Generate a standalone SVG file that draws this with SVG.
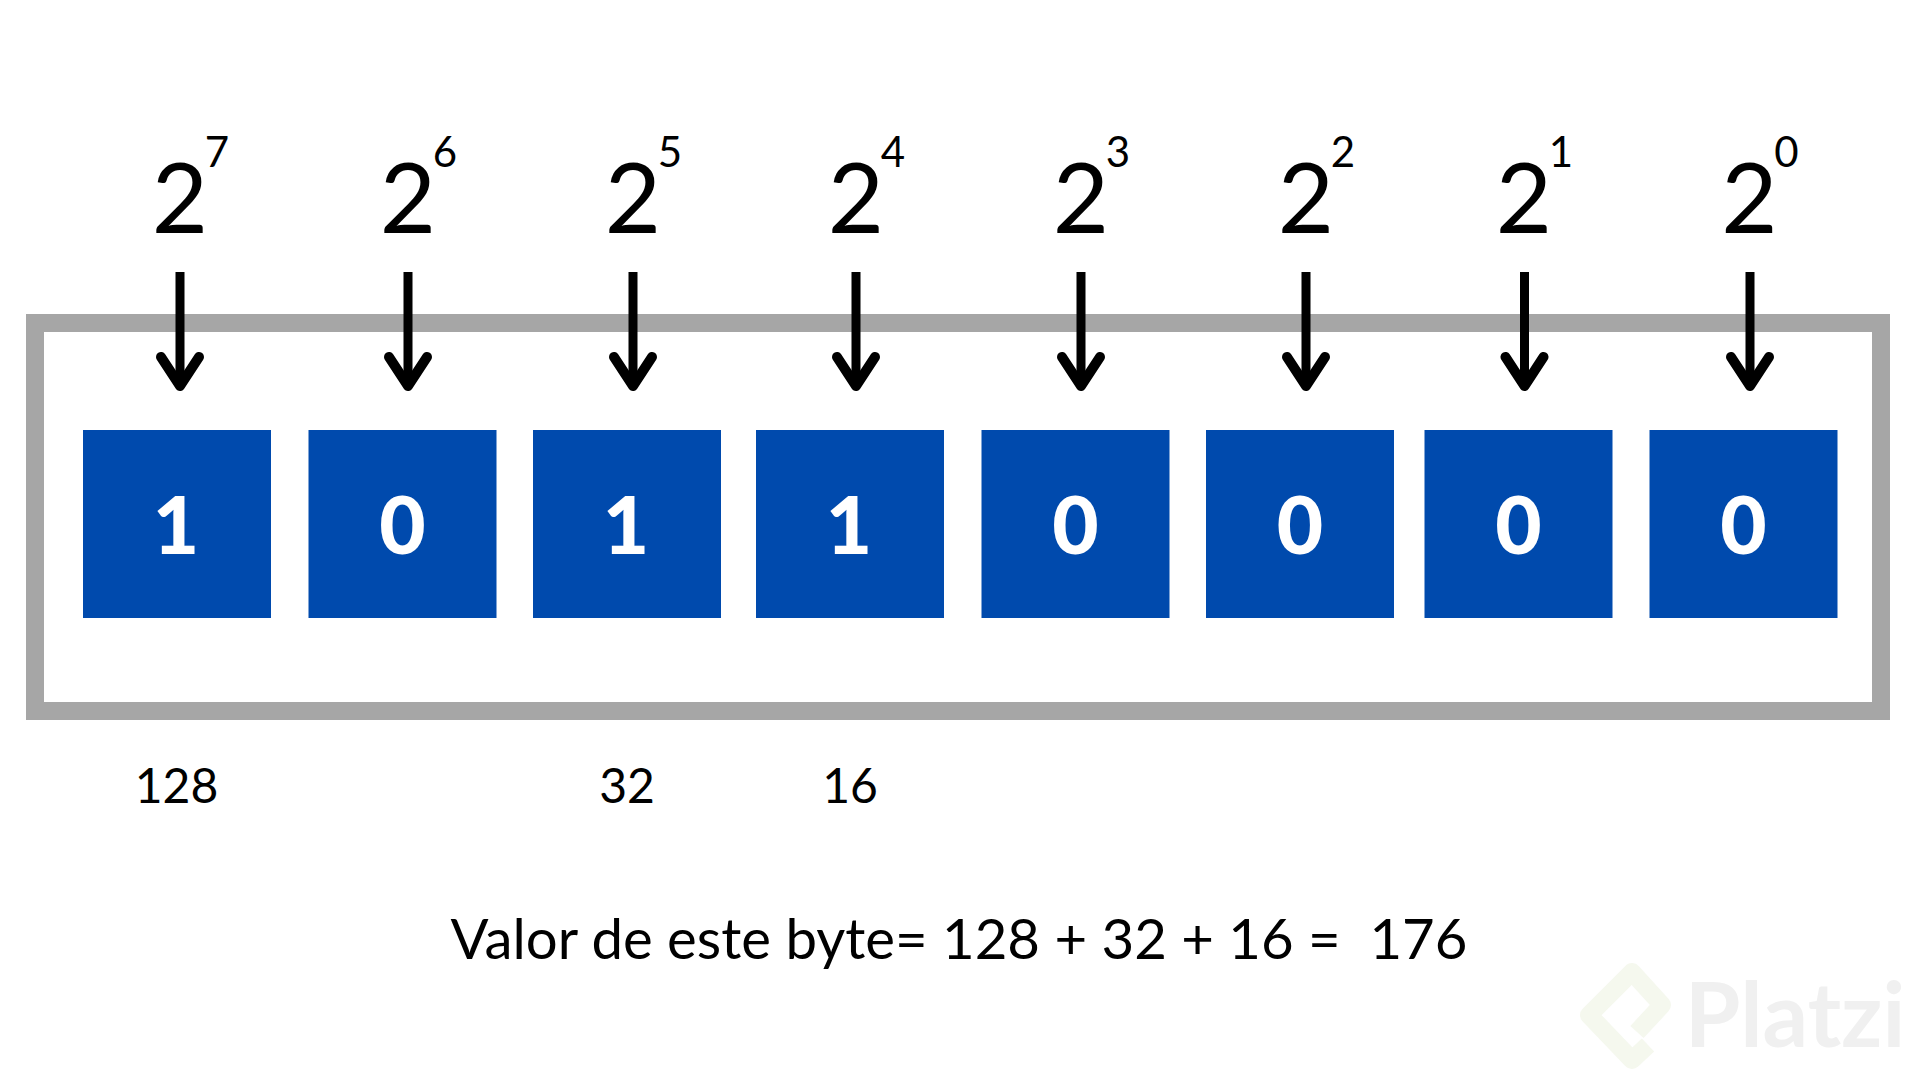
<svg xmlns="http://www.w3.org/2000/svg" width="1920" height="1080" viewBox="0 0 1920 1080">
<style>
text{font-family:Lato,"Noto Sans",sans-serif;fill:#000;text-anchor:middle}
.sq{fill:#004aad}
.bit{fill:#fff;font-size:80px;font-weight:900}
.base{font-size:97px}
.exp{font-size:42px}
.val{font-size:48px}
.sum{font-size:56.3px}
.arrow{stroke:#000;stroke-width:9;fill:none}
</style>
<defs>
<marker id="head" markerUnits="userSpaceOnUse" viewBox="-40 -30 50 60" refX="0" refY="0" markerWidth="50" markerHeight="60" orient="auto">
<path d="M-29-19 0 0-29 19" fill="none" stroke="#000" stroke-width="10" stroke-linecap="round" stroke-linejoin="round"/>
</marker>
</defs>
<rect width="1920" height="1080" fill="#fff"/>
<rect id="frame" x="35" y="323" width="1846" height="388" fill="#fff" stroke="#a6a6a6" stroke-width="18"/>
<g id="n7"><rect class="sq" x="83" y="430" width="188" height="188"/><text class="bit" x="176" y="554">1</text><text class="base" x="180" y="233">2</text><text class="exp" x="217" y="167">7</text></g>
<g id="n6"><rect class="sq" x="308.5" y="430" width="188" height="188"/><text class="bit" x="402.5" y="554">0</text><text class="base" x="408" y="233">2</text><text class="exp" x="445" y="167">6</text></g>
<g id="n5"><rect class="sq" x="533" y="430" width="188" height="188"/><text class="bit" x="626" y="554">1</text><text class="base" x="633" y="233">2</text><text class="exp" x="670" y="167">5</text></g>
<g id="n4"><rect class="sq" x="756" y="430" width="188" height="188"/><text class="bit" x="849" y="554">1</text><text class="base" x="856" y="233">2</text><text class="exp" x="893" y="167">4</text></g>
<g id="n3"><rect class="sq" x="981.5" y="430" width="188" height="188"/><text class="bit" x="1075.5" y="554">0</text><text class="base" x="1081" y="233">2</text><text class="exp" x="1118" y="167">3</text></g>
<g id="n2"><rect class="sq" x="1206" y="430" width="188" height="188"/><text class="bit" x="1300" y="554">0</text><text class="base" x="1306" y="233">2</text><text class="exp" x="1343" y="167">2</text></g>
<g id="n1"><rect class="sq" x="1424.5" y="430" width="188" height="188"/><text class="bit" x="1518.5" y="554">0</text><text class="base" x="1524" y="233">2</text><text class="exp" x="1561" y="167">1</text></g>
<g id="n0"><rect class="sq" x="1649.5" y="430" width="188" height="188"/><text class="bit" x="1743.5" y="554">0</text><text class="base" x="1749.5" y="233">2</text><text class="exp" x="1786.5" y="167">0</text></g>
<g id="connectors">
<path class="arrow" marker-end="url(#head)" d="M180 272V386"/>
<path class="arrow" marker-end="url(#head)" d="M408 272V386"/>
<path class="arrow" marker-end="url(#head)" d="M633 272V386"/>
<path class="arrow" marker-end="url(#head)" d="M856 272V386"/>
<path class="arrow" marker-end="url(#head)" d="M1081 272V386"/>
<path class="arrow" marker-end="url(#head)" d="M1306 272V386"/>
<path class="arrow" marker-end="url(#head)" d="M1524.500 272V386"/>
<path class="arrow" marker-end="url(#head)" d="M1750 272V386"/>
</g>
<g id="values">
<text class="val" x="176.500" y="803">128</text>
<text class="val" x="627" y="803">32</text>
<text class="val" x="850" y="803">16</text>
</g>
<text id="sum" class="sum" x="959" y="958.500" xml:space="preserve">Valor de este byte= 128 + 32 + 16 =  176</text>
<g id="watermark">
<path d="M1637 1032 1662 1005 1632 972 1589 1015 1632 1060 1648 1045" fill="none" stroke="#f5f8ee" stroke-width="18" stroke-linejoin="round"/>
<text x="1795" y="1047" style="fill:#f0f0f0;font-size:90px;font-weight:700">Platzi</text>
</g>
</svg>
